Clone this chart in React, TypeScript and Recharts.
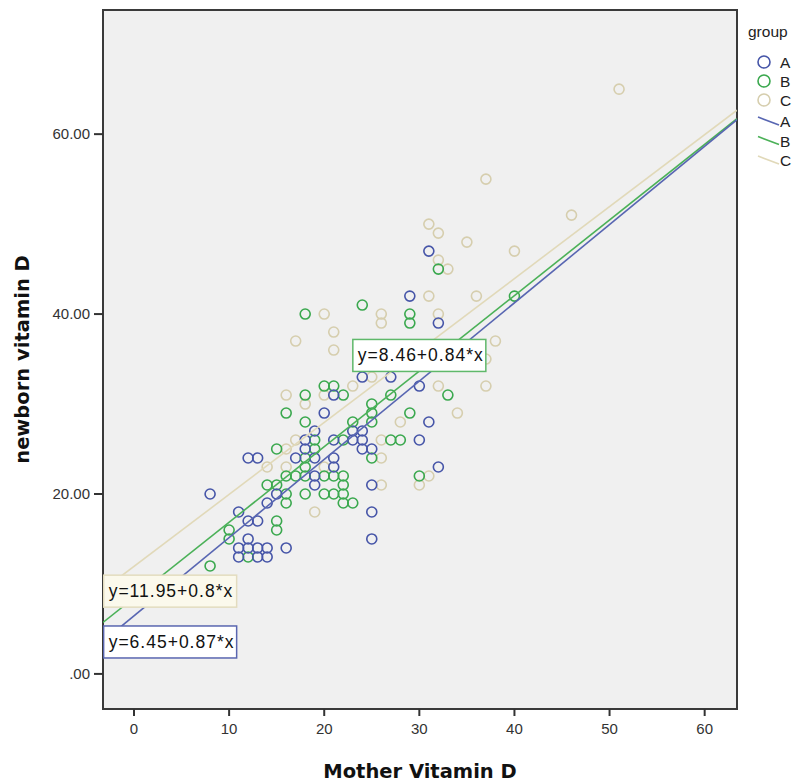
import React from 'react';
import { ScatterChart, Scatter, XAxis, YAxis, CartesianGrid, ReferenceArea } from 'recharts';

type Pt = { x: number; y: number };

// Mother vs newborn vitamin D, by group
const groupA: Pt[] = [
  { x: 8, y: 20 }, { x: 11, y: 18 }, { x: 12, y: 17 }, { x: 13, y: 17 }, { x: 12, y: 24 },
  { x: 13, y: 24 }, { x: 14, y: 19 }, { x: 12, y: 15 }, { x: 11, y: 14 }, { x: 12, y: 14 },
  { x: 13, y: 14 }, { x: 14, y: 14 }, { x: 11, y: 13 }, { x: 13, y: 13 }, { x: 14, y: 13 },
  { x: 16, y: 14 }, { x: 15, y: 20 }, { x: 17, y: 24 }, { x: 18, y: 25 }, { x: 18, y: 26 },
  { x: 19, y: 27 }, { x: 19, y: 24 }, { x: 19, y: 22 }, { x: 19, y: 21 }, { x: 20, y: 29 },
  { x: 21, y: 31 }, { x: 21, y: 26 }, { x: 21, y: 24 }, { x: 21, y: 23 }, { x: 23, y: 26 },
  { x: 23, y: 27 }, { x: 24, y: 27 }, { x: 24, y: 26 }, { x: 24, y: 25 }, { x: 24, y: 33 },
  { x: 25, y: 25 }, { x: 25, y: 21 }, { x: 25, y: 18 }, { x: 25, y: 15 }, { x: 27, y: 33 },
  { x: 29, y: 42 }, { x: 30, y: 32 }, { x: 30, y: 26 }, { x: 31, y: 28 }, { x: 31, y: 47 },
  { x: 32, y: 39 }, { x: 32, y: 23 },
];

const groupB: Pt[] = [
  { x: 8, y: 12 }, { x: 10, y: 16 }, { x: 10, y: 15 }, { x: 12, y: 13 }, { x: 14, y: 21 },
  { x: 15, y: 21 }, { x: 15, y: 17 }, { x: 15, y: 16 }, { x: 15, y: 25 }, { x: 16, y: 22 },
  { x: 16, y: 20 }, { x: 16, y: 19 }, { x: 16, y: 29 }, { x: 17, y: 22 }, { x: 18, y: 40 },
  { x: 18, y: 31 }, { x: 18, y: 28 }, { x: 18, y: 24 }, { x: 18, y: 23 }, { x: 18, y: 22 },
  { x: 18, y: 20 }, { x: 19, y: 26 }, { x: 19, y: 25 }, { x: 20, y: 32 }, { x: 21, y: 32 },
  { x: 20, y: 22 }, { x: 20, y: 20 }, { x: 21, y: 22 }, { x: 21, y: 20 }, { x: 22, y: 31 },
  { x: 22, y: 26 }, { x: 22, y: 22 }, { x: 22, y: 21 }, { x: 22, y: 20 }, { x: 22, y: 19 },
  { x: 23, y: 28 }, { x: 23, y: 19 }, { x: 24, y: 41 }, { x: 25, y: 30 }, { x: 25, y: 29 },
  { x: 25, y: 28 }, { x: 25, y: 24 }, { x: 27, y: 31 }, { x: 27, y: 26 }, { x: 28, y: 26 },
  { x: 29, y: 40 }, { x: 29, y: 39 }, { x: 29, y: 29 }, { x: 30, y: 22 }, { x: 32, y: 45 },
  { x: 33, y: 31 }, { x: 40, y: 42 },
];

const groupC: Pt[] = [
  { x: 14, y: 23 }, { x: 16, y: 23 }, { x: 16, y: 25 }, { x: 16, y: 31 }, { x: 17, y: 26 },
  { x: 17, y: 37 }, { x: 18, y: 30 }, { x: 19, y: 18 }, { x: 20, y: 23 }, { x: 20, y: 31 },
  { x: 20, y: 40 }, { x: 21, y: 36 }, { x: 21, y: 38 }, { x: 23, y: 32 }, { x: 25, y: 33 },
  { x: 26, y: 40 }, { x: 26, y: 39 }, { x: 26, y: 26 }, { x: 26, y: 24 }, { x: 26, y: 21 },
  { x: 28, y: 28 }, { x: 30, y: 21 }, { x: 31, y: 22 }, { x: 31, y: 42 }, { x: 31, y: 50 },
  { x: 32, y: 49 }, { x: 32, y: 46 }, { x: 32, y: 40 }, { x: 32, y: 32 }, { x: 33, y: 45 },
  { x: 34, y: 29 }, { x: 35, y: 48 }, { x: 36, y: 42 }, { x: 37, y: 55 }, { x: 37, y: 35 },
  { x: 37, y: 32 }, { x: 38, y: 37 }, { x: 40, y: 47 }, { x: 46, y: 51 }, { x: 51, y: 65 },
];

// Linear fit per group: y = intercept + slope * x
const fitA = { intercept: 6.45, slope: 0.87 };
const fitB = { intercept: 8.46, slope: 0.84 };
const fitC = { intercept: 11.95, slope: 0.8 };

const xTicks = [0, 10, 20, 30, 40, 50, 60];
const yTicks = [0, 20, 40, 60];
const legendGroups = ['A', 'B', 'C'];

const XMIN = -3.26;
const XMAX = 63.4;
const YMIN = -3.9;
const YMAX = 73.8;

const COLORS = {
  A: { dot: '#4655a8', line: '#5866b2', box: '#5a66b0', fill: '#ffffff' },
  B: { dot: '#3aa84e', line: '#4bb158', box: '#5fb86a', fill: '#ffffff' },
  C: { dot: '#d6ceae', line: '#e1d9b9', box: '#e3dcbf', fill: '#fbf9ec' },
} as const;

const SANS = "'Liberation Sans', Arial, sans-serif";

const fitLine = (f: { intercept: number; slope: number }): Pt[] => [
  { x: XMIN, y: f.intercept + f.slope * XMIN },
  { x: XMAX, y: f.intercept + f.slope * XMAX },
];

const fitText = (f: { intercept: number; slope: number }) => `y=${f.intercept}+${f.slope}*x`;

const ring = (color: string) => (props: any) => {
  const { cx, cy } = props;
  if (cx == null || cy == null) return <g />;
  return <circle cx={cx} cy={cy} r={5} fill="none" stroke={color} strokeWidth={1.6} />;
};

const noDot = () => <g />;

const fitBox = (text: string, stroke: string, fill: string) => (props: any) => {
  const { cx, cy } = props;
  if (cx == null || cy == null) return <g />;
  const w = 133;
  const h = 32;
  return (
    <g>
      <rect x={cx - w / 2} y={cy - h / 2} width={w} height={h} fill={fill} stroke={stroke} strokeWidth={1.5} />
      <text x={cx - w / 2 + 5} y={cy + 6} fontFamily={SANS} fontSize={17.5} letterSpacing={1} fill="#111">
        {text}
      </text>
    </g>
  );
};

const LegendPanel = () => (
  <svg width={801} height={783} style={{ position: 'absolute', left: 0, top: 0, pointerEvents: 'none' }}>
    <text x={748} y={37} fontFamily={SANS} fontSize={15.5} fill="#222">
      group
    </text>
    {legendGroups.map((g, i) => {
      const c = COLORS[g as keyof typeof COLORS];
      const cy = 62 + i * 19;
      return (
        <g key={'p' + g}>
          <circle cx={764} cy={cy} r={6} fill="none" stroke={c.dot} strokeWidth={1.6} />
          <text x={780} y={cy + 6} fontFamily={SANS} fontSize={15.5} fill="#222">
            {g}
          </text>
        </g>
      );
    })}
    {legendGroups.map((g, i) => {
      const c = COLORS[g as keyof typeof COLORS];
      const cy = 121 + i * 19.5;
      return (
        <g key={'l' + g}>
          <line x1={758} y1={cy - 4} x2={779} y2={cy + 4} stroke={c.line} strokeWidth={1.6} />
          <text x={780} y={cy + 6} fontFamily={SANS} fontSize={15.5} fill="#222">
            {g}
          </text>
        </g>
      );
    })}
  </svg>
);

// Axis tick text with an explicit font size
const TickText = (anchor: 'middle' | 'end', dy: number) => (props: any) => {
  const { x, y, payload, tickFormatter } = props;
  const label = tickFormatter ? tickFormatter(payload.value, payload.index) : String(payload.value);
  return (
    <text x={x} y={y} dy={dy} textAnchor={anchor} fontFamily={SANS} fontSize={15} fill="#333">
      {label}
    </text>
  );
};

export default function App() {
  const titleStyle = { fontSize: 19.5, fontWeight: 'bold', fill: '#111', fontFamily: "'DejaVu Sans', sans-serif" };
  return (
    <div style={{ position: 'absolute', left: 0, top: 0, width: 801, height: 783, background: '#fff' }}>
      <ScatterChart width={801} height={783} margin={{ top: 10, right: 64, bottom: 0, left: 0 }}>
        <CartesianGrid horizontal={false} vertical={false} fill="#f0f0f0" />
        <XAxis
          type="number"
          dataKey="x"
          domain={[XMIN, XMAX]}
          ticks={xTicks}
          allowDataOverflow
          height={74}
          axisLine={false}
          tickLine={{ stroke: '#333', strokeWidth: 2 }}
          tickSize={7}
          tickMargin={6}
          tick={TickText('middle', 12)}
          label={{ value: 'Mother Vitamin D', position: 'insideBottom', offset: 5, style: titleStyle }}
        />
        <YAxis
          type="number"
          dataKey="y"
          domain={[YMIN, YMAX]}
          ticks={yTicks}
          allowDataOverflow
          width={103}
          axisLine={false}
          tickLine={{ stroke: '#333', strokeWidth: 2 }}
          tickSize={9}
          tickMargin={4}
          tick={TickText('end', 5)}
          tickFormatter={(v: number) => (v === 0 ? '.00' : v.toFixed(2))}
          label={{
            value: 'newborn vitamin D',
            angle: -90,
            position: 'insideLeft',
            offset: 22,
            style: { ...titleStyle, textAnchor: 'middle' },
          }}
        />
        <ReferenceArea
          x1={XMIN}
          x2={XMAX}
          y1={YMIN}
          y2={YMAX}
          fill="none"
          fillOpacity={0}
          stroke="#3a3a3a"
          strokeWidth={2}
          ifOverflow="visible"
        />
        <Scatter name="C" data={groupC} shape={ring(COLORS.C.dot)} isAnimationActive={false} />
        <Scatter name="B" data={groupB} shape={ring(COLORS.B.dot)} isAnimationActive={false} />
        <Scatter name="A" data={groupA} shape={ring(COLORS.A.dot)} isAnimationActive={false} />
        <Scatter
          name="fitC"
          data={fitLine(fitC)}
          line={{ stroke: COLORS.C.line, strokeWidth: 1.6 }}
          shape={noDot}
          isAnimationActive={false}
        />
        <Scatter
          name="fitB"
          data={fitLine(fitB)}
          line={{ stroke: COLORS.B.line, strokeWidth: 1.6 }}
          shape={noDot}
          isAnimationActive={false}
        />
        <Scatter
          name="fitA"
          data={fitLine(fitA)}
          line={{ stroke: COLORS.A.line, strokeWidth: 1.6 }}
          shape={noDot}
          isAnimationActive={false}
        />
        <Scatter
          name="labelB"
          data={[{ x: 30.0, y: 35.4 }]}
          shape={fitBox(fitText(fitB), COLORS.B.box, COLORS.B.fill)}
          isAnimationActive={false}
        />
        <Scatter
          name="labelC"
          data={[{ x: 3.8, y: 9.2 }]}
          shape={fitBox(fitText(fitC), COLORS.C.box, COLORS.C.fill)}
          isAnimationActive={false}
        />
        <Scatter
          name="labelA"
          data={[{ x: 3.8, y: 3.55 }]}
          shape={fitBox(fitText(fitA), COLORS.A.box, COLORS.A.fill)}
          isAnimationActive={false}
        />
      </ScatterChart>
      <LegendPanel />
    </div>
  );
}
